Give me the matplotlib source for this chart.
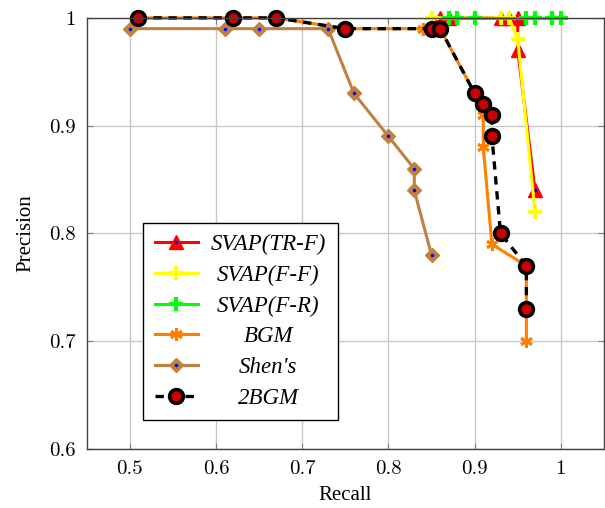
import matplotlib
matplotlib.use("Agg")
import matplotlib.pyplot as plt
from matplotlib.legend_handler import HandlerTuple

# recall / precision values
tr_f_x = [0.86, 0.87, 0.93, 0.94, 0.95, 0.95, 0.97]
tr_f_y = [1.00, 1.00, 1.00, 1.00, 1.00, 0.97, 0.84]

ff_x = [0.85, 0.87, 0.93, 0.94, 0.95, 0.97]
ff_y = [1.00, 1.00, 1.00, 1.00, 0.98, 0.82]

fr_x = [0.87, 0.88, 0.90, 0.96, 0.97, 0.99, 1.00]
fr_y = [1.00, 1.00, 1.00, 1.00, 1.00, 1.00, 1.00]

bgm_x = [0.51, 0.62, 0.67, 0.75, 0.84, 0.86, 0.90, 0.91, 0.91, 0.92, 0.96, 0.96]
bgm_y = [1.00, 1.00, 1.00, 0.99, 0.99, 0.99, 0.93, 0.91, 0.88, 0.79, 0.77, 0.70]

shen_x = [0.50, 0.61, 0.65, 0.73, 0.76, 0.80, 0.83, 0.83, 0.85]
shen_y = [0.99, 0.99, 0.99, 0.99, 0.93, 0.89, 0.86, 0.84, 0.78]

bgm2_x = [0.51, 0.62, 0.67, 0.75, 0.85, 0.86, 0.90, 0.91, 0.92, 0.92, 0.93, 0.96, 0.96]
bgm2_y = [1.00, 1.00, 1.00, 0.99, 0.99, 0.99, 0.93, 0.92, 0.91, 0.89, 0.80, 0.77, 0.73]

x_ticks = [0.5, 0.6, 0.7, 0.8, 0.9, 1.0]
y_ticks = [0.6, 0.7, 0.8, 0.9, 1.0]

brown = '#bf8040'

fig = plt.figure(figsize=(6.05, 5.08), dpi=100)
ax = fig.add_axes([0.1433, 0.116, 0.855, 0.8488])

kw = dict(clip_on=False)
l1, = ax.plot(tr_f_x, tr_f_y, color='red', lw=2.2, marker='^', ms=10, **kw)
d1, = ax.plot(tr_f_x, tr_f_y, ls='none', marker='.', ms=3, color='blue', **kw)
l2, = ax.plot(ff_x, ff_y, color='yellow', lw=2.2, marker='+', ms=10, mew=3, **kw)
l3, = ax.plot(fr_x, fr_y, color='#00ff00', lw=2.2, marker='+', ms=10, mew=3, **kw)
l4, = ax.plot(bgm_x, bgm_y, color='#ff8000', lw=2.2, marker=(6, 2, 0), ms=9, mew=2, **kw)
l5, = ax.plot(shen_x, shen_y, color=brown, lw=2.2, marker='D', ms=7.5, **kw)
d5, = ax.plot(shen_x, shen_y, ls='none', marker='.', ms=3, color='blue', **kw)
l6, = ax.plot(bgm2_x, bgm2_y, color='black', lw=2.4, ls=(0, (2.5, 2)),
              marker='o', ms=10, mfc='#cc0000', mec='black', mew=2.5, **kw)

ax.set_xlim(0.45, 1.05)
ax.set_ylim(0.6, 1.0)
ax.set_xticks(x_ticks)
ax.set_yticks(y_ticks)
ax.set_xticklabels([f'{v:g}' for v in x_ticks], fontfamily='cmr10', fontsize=15)
ax.set_yticklabels([f'{v:g}' for v in y_ticks], fontfamily='cmr10', fontsize=15)
ax.tick_params(direction='in', length=4, color='#808080', top=True, right=True, pad=8)
ax.grid(True, color='#c8c8c8', lw=1)
ax.set_axisbelow(True)
for sp in ax.spines.values():
    sp.set_linewidth(1)
    sp.set_color('#404040')

ax.set_xlabel('Recall', fontfamily='Liberation Serif', fontsize=15, labelpad=6)
ax.set_ylabel('Precision', fontfamily='Liberation Serif', fontsize=15, labelpad=10)

labels = ['SVAP(TR-F)', 'SVAP(F-F)', 'SVAP(F-R)', 'BGM', "Shen's", '2BGM']
leg = ax.legend([(l1, d1), l2, l3, l4, (l5, d5), l6], labels,
                handler_map={tuple: HandlerTuple(ndivide=1)},
                loc='lower left', bbox_to_anchor=(0.109, 0.067), borderaxespad=0,
                fancybox=False, edgecolor='black', framealpha=1,
                prop={'family': 'Liberation Serif', 'style': 'italic', 'size': 16.5},
                handlelength=1.9, labelspacing=0.42, borderpad=0.5, handletextpad=0.55)
leg.get_frame().set_linewidth(1)

# centre the legend labels like the original
fig.canvas.draw()
r = fig.canvas.get_renderer()
texts = leg.get_texts()
widths = [t.get_window_extent(r).width for t in texts]
wmax = max(widths)
for t, w in zip(texts, widths):
    t.set_x((wmax - w) / 2)

fig.savefig('out.png', dpi=100)
